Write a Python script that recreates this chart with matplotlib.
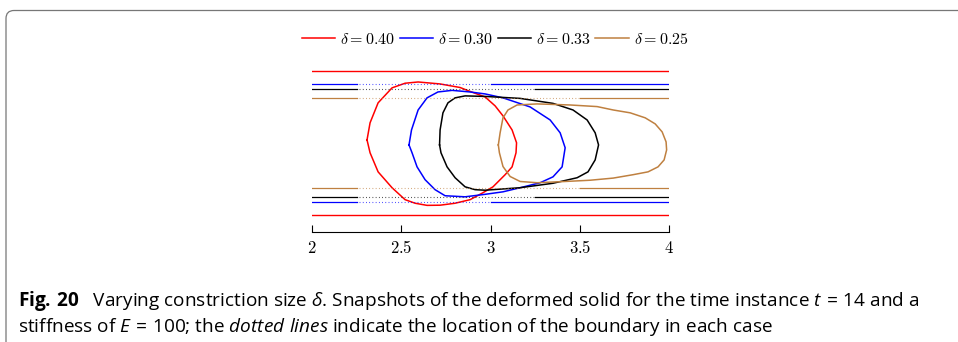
import matplotlib
matplotlib.use("Agg")
import matplotlib.pyplot as plt
from matplotlib.patches import FancyBboxPatch
from matplotlib.transforms import IdentityTransform

# ── data ────────────────────────────────────────────────────────────────────
LABELS = [r"$\delta=0.40$", r"$\delta=0.30$", r"$\delta=0.33$", r"$\delta=0.25$"]
COLORS = ["#ff0000", "#0000ff", "#000000", "#bf8040"]

# half-width of the channel walls and x-range of the dotted part of the walls
WALL_Y = [0.404, 0.330, 0.302, 0.251]
DOTTED_X = [None, (2.25, 3.0), (2.25, 3.25), (2.25, 3.5)]
X_START, X_END = 2.0, 4.0

red_x = [2.308, 2.325, 2.370, 2.448, 2.521, 2.594, 2.717, 2.829, 2.885, 2.969,
         3.025, 3.069, 3.120, 3.145, 3.142, 3.120, 3.081, 3.013, 2.957, 2.885,
         2.801, 2.717, 2.644, 2.577, 2.521, 2.448, 2.370, 2.325, 2.308]
red_y = [0.018, 0.114, 0.226, 0.310, 0.336, 0.343, 0.332, 0.312, 0.290, 0.259,
         0.209, 0.153, 0.074, 0.002, -0.054, -0.133, -0.177, -0.245, -0.278, -0.317,
         -0.337, -0.348, -0.349, -0.337, -0.317, -0.250, -0.161, -0.054, 0.018]

blue_x = [2.543, 2.557, 2.594, 2.644, 2.705, 2.784, 2.885, 2.969, 3.069, 3.221,
          3.333, 3.389, 3.417, 3.400, 3.349, 3.277, 3.165, 3.069, 2.969, 2.857,
          2.745, 2.689, 2.633, 2.588, 2.560, 2.543]
blue_y = [-0.010, 0.074, 0.186, 0.254, 0.287, 0.296, 0.287, 0.276, 0.254, 0.203,
          0.130, 0.058, -0.026, -0.133, -0.189, -0.222, -0.250, -0.273, -0.287, -0.301,
          -0.295, -0.261, -0.205, -0.133, -0.054, -0.010]

black_x = [2.714, 2.717, 2.733, 2.761, 2.801, 2.857, 2.969, 3.165, 3.349, 3.461,
           3.540, 3.585, 3.604, 3.585, 3.545, 3.484, 3.349, 3.165, 2.969, 2.913,
           2.857, 2.801, 2.756, 2.722, 2.714]
black_y = [-0.010, 0.074, 0.170, 0.226, 0.254, 0.265, 0.262, 0.251, 0.223, 0.186,
           0.130, 0.058, -0.010, -0.094, -0.161, -0.194, -0.225, -0.250, -0.264, -0.261,
           -0.245, -0.194, -0.133, -0.054, -0.010]

brown_x = [3.043, 3.053, 3.069, 3.097, 3.148, 3.260, 3.445, 3.596, 3.686, 3.781,
           3.865, 3.921, 3.960, 3.982, 3.985, 3.971, 3.937, 3.881, 3.797, 3.686,
           3.557, 3.417, 3.260, 3.165, 3.109, 3.069, 3.049, 3.043]
brown_y = [-0.010, 0.058, 0.142, 0.186, 0.214, 0.220, 0.214, 0.205, 0.186, 0.170,
           0.142, 0.108, 0.063, 0.007, -0.038, -0.094, -0.133, -0.161, -0.177, -0.196,
           -0.208, -0.215, -0.222, -0.215, -0.187, -0.131, -0.054, -0.010]

SHAPES = [(red_x, red_y), (blue_x, blue_y), (black_x, black_y), (brown_x, brown_y)]

XTICKS = [2, 2.5, 3, 3.5, 4]
XTICK_LABELS = ["$2$", "$2.5$", "$3$", "$3.5$", "$4$"]

CAPTION = (r"$\mathbf{Fig.\,20}$   Varying constriction size $\delta$. Snapshots of the "
           r"deformed solid for the time instance $t\,=\,$14 and a" "\n"
           r"stiffness of $E\,=\,$100; the $\mathit{dotted\ lines}$ indicate the "
           r"location of the boundary in each case")

# ── figure ──────────────────────────────────────────────────────────────────
plt.rcParams["mathtext.fontset"] = "cm"
plt.rcParams["mathtext.rm"] = "Open Sans"
plt.rcParams["mathtext.it"] = "Open Sans:italic"
plt.rcParams["mathtext.bf"] = "Open Sans:bold"

W, H = 958, 342
fig = plt.figure(figsize=(W / 100, H / 100), dpi=100)
ax = fig.add_axes([312 / W, (H - 232.3) / H, 357.3 / W, 169.4 / H])

for (xs, ys), wy, dx, c, lab in zip(SHAPES, WALL_Y, DOTTED_X, COLORS, LABELS):
    for s in (1, -1):
        if dx is None:
            ax.plot([X_START, X_END], [s * wy, s * wy], color=c, lw=1.0)
        else:
            ax.plot([X_START, dx[0]], [s * wy, s * wy], color=c, lw=0.9)
            ax.plot([dx[1], X_END], [s * wy, s * wy], color=c, lw=0.9)
            ax.plot([dx[0], dx[1]], [s * wy, s * wy], color=c, lw=0.8,
                    linestyle=(1, (0.7, 2.2)), alpha=0.85)
    ax.plot(xs, ys, color=c, lw=1.1, label=lab, solid_joinstyle="round")

ax.set_xlim(2, 4)
ax.set_ylim(-0.5, 0.45)
for side in ("top", "right", "left"):
    ax.spines[side].set_visible(False)
ax.spines["bottom"].set_linewidth(0.8)
ax.set_yticks([])
ax.set_xticks(XTICKS)
ax.set_xticklabels(XTICK_LABELS)
ax.tick_params(axis="x", direction="in", length=5, width=0.8, pad=5, labelsize=12)

leg = fig.legend(loc="center", bbox_to_anchor=(495 / W, 1 - 39 / H), ncol=4,
                 frameon=False, fontsize=11.5, handlelength=2.1, handletextpad=0.3,
                 columnspacing=0.3, borderaxespad=0)

fig.text(18 / W, 1 - 313.5 / H, CAPTION, fontsize=13.7, family="Open Sans",
         va="center", ha="left", linespacing=1.2, math_fontfamily="custom")

# rounded frame around the figure (open to the right and bottom)
fig.add_artist(FancyBboxPatch((6, -30), 1000, H - 10.5 + 30,
                              boxstyle="round,pad=0,rounding_size=8",
                              transform=IdentityTransform(), fill=False,
                              edgecolor="#777777", lw=0.9))

fig.savefig("out.png", dpi=100)
